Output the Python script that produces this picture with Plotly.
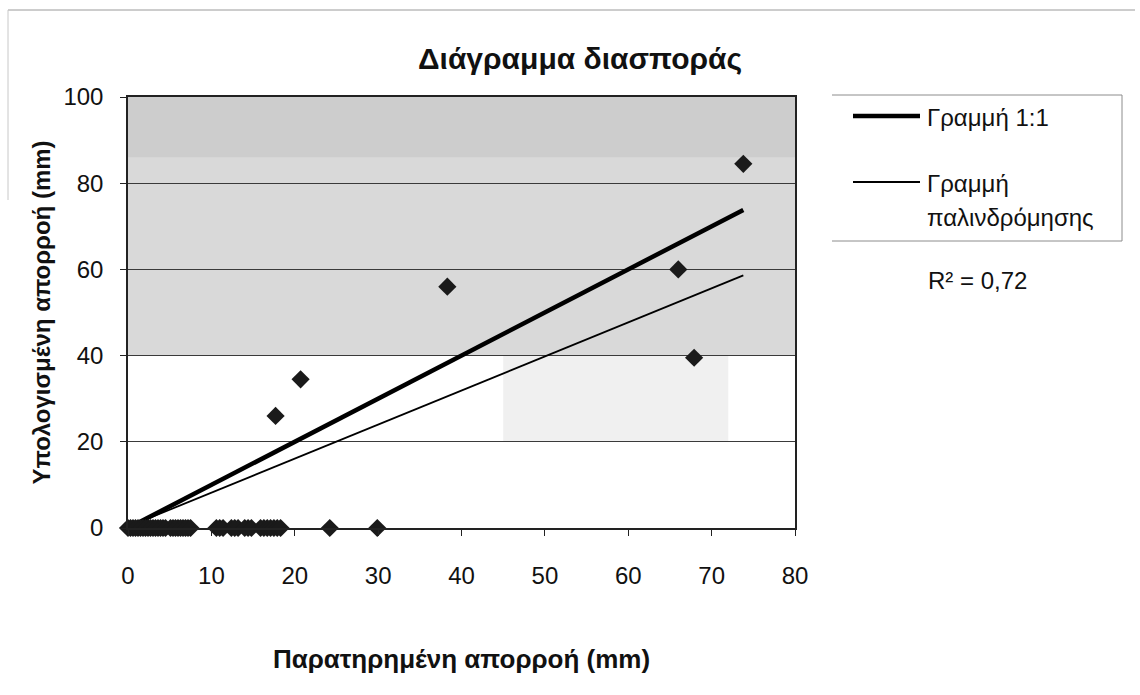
import plotly.graph_objects as go

# Observed vs. computed runoff (mm)
observed = [0.0, 0.3, 0.6, 0.9, 1.2, 1.5, 1.8, 2.1, 2.4, 2.7, 3.0, 3.3, 3.6, 3.9, 4.2, 4.5,
            5.1, 5.4, 5.7, 6.0, 6.3, 6.6, 6.9, 7.2, 7.5,
            10.6, 11.0, 11.4, 12.4, 12.8, 13.2, 14.0, 14.4, 14.8,
            15.9, 16.3, 16.7, 17.1, 17.5, 17.9, 18.3,
            24.2, 29.9,
            17.7, 20.7, 38.3, 66.0, 67.9, 73.8]
computed = [0, 0, 0, 0, 0, 0, 0, 0, 0, 0, 0, 0, 0, 0, 0, 0,
            0, 0, 0, 0, 0, 0, 0, 0, 0,
            0, 0, 0, 0, 0, 0, 0, 0, 0,
            0, 0, 0, 0, 0, 0, 0,
            0, 0,
            26.0, 34.5, 56.0, 60.0, 39.5, 84.5]

# 1:1 reference and least-squares fit (slope, intercept), R² = 0,72
x_line = [0, 73.8]
reg_slope = 0.79
reg_intercept = 0.3
r2_label = "R² = 0,72"

x_ticks = [0, 10, 20, 30, 40, 50, 60, 70, 80]
y_ticks = [0, 20, 40, 60, 80, 100]

FONT = "Liberation Sans, Arial, sans-serif"
INK = "#111111"

fig = go.Figure()

fig.add_trace(go.Scatter(
    x=x_line, y=x_line, mode="lines",
    line=dict(color="black", width=4.5), name="Γραμμή 1:1", showlegend=False,
))
fig.add_trace(go.Scatter(
    x=x_line, y=[reg_intercept + reg_slope * v for v in x_line], mode="lines",
    line=dict(color="black", width=1.8), name="Γραμμή παλινδρόμησης",
    showlegend=False,
))
fig.add_trace(go.Scatter(
    x=observed, y=computed, mode="markers",
    marker=dict(symbol="diamond", size=14, color="#1a1a1a"),
    showlegend=False, cliponaxis=False,
))

# pixel -> paper helpers for the 128..795 x 97..528 plotting box
def px(v):
    return (v - 128) / 667


def py(v):
    return (528 - v) / 431


shapes = [
    # shaded upper part of the plotting area
    dict(type="rect", xref="x", yref="y", x0=0, x1=80, y0=40, y1=100,
         fillcolor="#d9d9d9", line=dict(width=0), layer="below"),
    dict(type="rect", xref="x", yref="y", x0=0, x1=80, y0=86, y1=100,
         fillcolor="#cdcdcd", line=dict(width=0), layer="below"),
    dict(type="rect", xref="x", yref="y", x0=45, x1=72, y0=20, y1=40,
         fillcolor="#f0f0f0", line=dict(width=0), layer="below"),
    # outer chart frame (top and left edges)
    dict(type="line", xref="paper", yref="paper",
         x0=px(8), x1=px(1135), y0=py(10), y1=py(10),
         line=dict(color="#9a9a9a", width=1)),
    dict(type="line", xref="paper", yref="paper",
         x0=px(8), x1=px(8), y0=py(10), y1=py(200),
         line=dict(color="#c8c8c8", width=1)),
]

# legend frame: top, right, bottom
for x0, x1, y0, y1 in [(832, 1122, 95, 95), (1122, 1122, 95, 241), (832, 1122, 241, 241)]:
    shapes.append(dict(type="line", xref="paper", yref="paper",
                       x0=px(x0), x1=px(x1), y0=py(y0), y1=py(y1),
                       line=dict(color="#8c8c8c", width=1)))

# legend samples
shapes.append(dict(type="line", xref="paper", yref="paper", x0=px(853), x1=px(920),
                   y0=py(116), y1=py(116), line=dict(color="black", width=4.5)))
shapes.append(dict(type="line", xref="paper", yref="paper", x0=px(853), x1=px(920),
                   y0=py(182), y1=py(182), line=dict(color="black", width=1.8)))

LEG = dict(family=FONT, size=24, color=INK)
annotations = [
    dict(text="Γραμμή 1:1", x=px(925), y=py(117), xref="paper", yref="paper",
         xanchor="left", yanchor="middle", showarrow=False, font=LEG),
    dict(text="Γραμμή", x=px(925), y=py(183), xref="paper", yref="paper",
         xanchor="left", yanchor="middle", showarrow=False, font=LEG),
    dict(text="παλινδρόμησης", x=px(925), y=py(217), xref="paper", yref="paper",
         xanchor="left", yanchor="middle", showarrow=False, font=LEG),
    dict(text=r2_label, x=px(926), y=py(280), xref="paper", yref="paper",
         xanchor="left", yanchor="middle", showarrow=False, font=LEG),
    dict(text="<b>Διάγραμμα διασποράς</b>", x=px(580), y=py(58),
         xref="paper", yref="paper", xanchor="center", yanchor="middle",
         showarrow=False, font=dict(family=FONT, size=30, color=INK)),
]

fig.update_layout(
    width=1140, height=695,
    margin=dict(l=128, r=345, t=97, b=167),
    paper_bgcolor="white",
    plot_bgcolor="white",
    font=dict(family=FONT, color=INK),
    shapes=shapes,
    annotations=annotations,
    xaxis=dict(
        range=[0, 80], tickvals=x_ticks, ticktext=[str(v) for v in x_ticks],
        showgrid=False, zeroline=False,
        showline=True, linecolor="#222", linewidth=1.5, mirror=True,
        ticks="outside", ticklen=6, tickcolor="#222", ticklabelstandoff=19,
        tickfont=dict(family=FONT, size=24, color=INK),
        title=dict(text="<b>Παρατηρημένη απορροή (mm)</b>", standoff=62,
                   font=dict(family=FONT, size=26, color=INK)),
    ),
    yaxis=dict(
        range=[0, 100], tickvals=y_ticks, ticktext=[str(v) for v in y_ticks],
        showgrid=True, gridcolor="#3a3a3a", gridwidth=1, zeroline=False,
        showline=True, linecolor="#222", linewidth=1.5, mirror=True,
        ticks="outside", ticklen=6, tickcolor="#222", ticklabelstandoff=12,
        tickfont=dict(family=FONT, size=24, color=INK),
        title=dict(text="<b>Υπολογισμένη απορροή (mm)</b>", standoff=6,
                   font=dict(family=FONT, size=24, color=INK)),
    ),
)

fig.write_html("out.html")
